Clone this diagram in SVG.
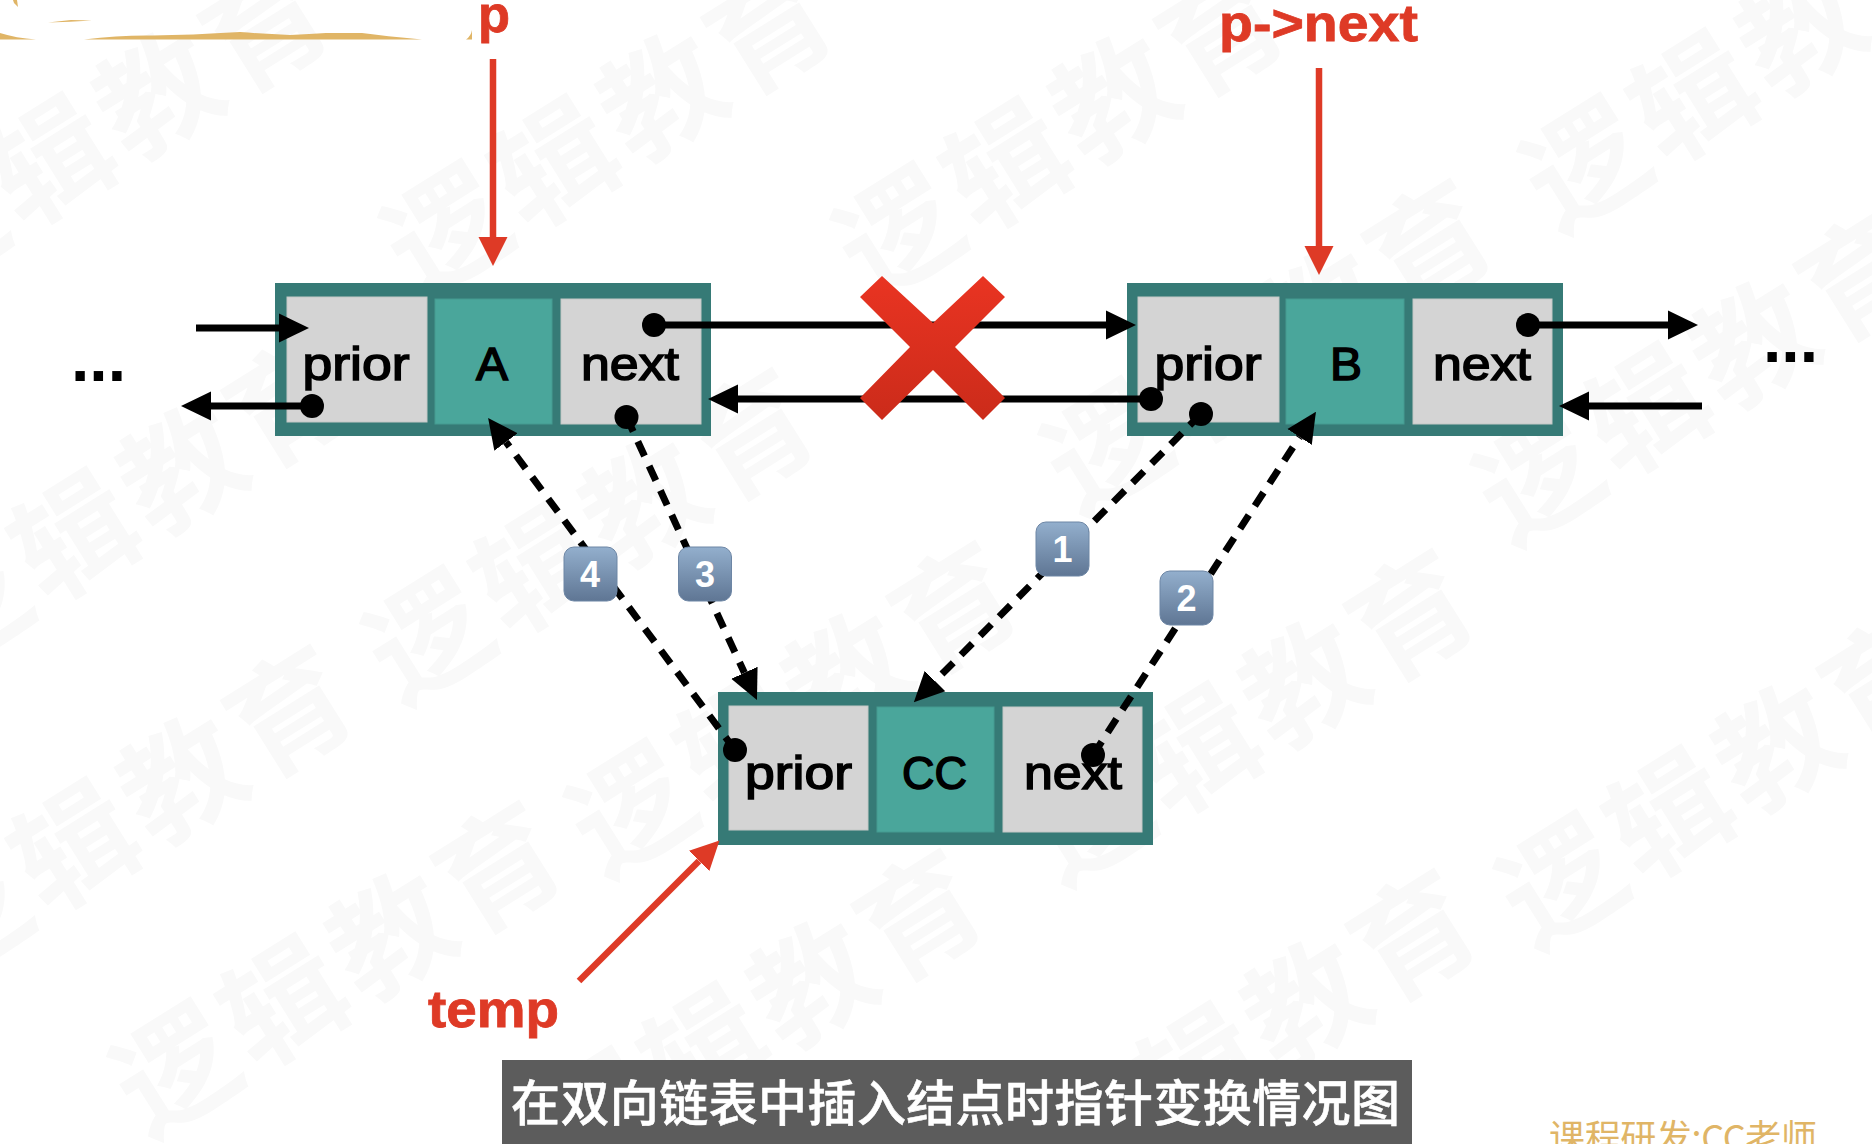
<svg xmlns="http://www.w3.org/2000/svg" width="1872" height="1144" viewBox="0 0 1872 1144">
<style>
text{font-family:"Liberation Sans","Noto Sans CJK SC",sans-serif}
.outer{fill:#367a76}
.cell{fill:#d4d4d4;stroke:#c4c8c6;stroke-width:1}
.data{fill:#4aa69b;stroke:#459a90;stroke-width:1}
.t{font-size:46px;fill:#000;stroke:#000;stroke-width:1.5}
.red{font-size:52px;font-weight:bold;fill:#de3a26;stroke:#de3a26;stroke-width:.8}
.ln{fill:none;stroke:#000;stroke-width:7}
.dash{stroke-dasharray:16 11}
.rl{fill:none;stroke:#de3a26;stroke-width:6.5}
.dot{fill:#000}
.dots{font-size:66px;font-weight:bold;fill:#000}
.bd{fill:url(#bg);stroke:#6d86a5;stroke-width:1}
.bt{font-size:36px;font-weight:bold;fill:#fff;text-anchor:middle}
.wm{font-family:"Noto Sans CJK SC",sans-serif;font-size:120px;font-weight:700;letter-spacing:7px;fill:#f9f9f9}
</style>
<defs>
<marker id="ah" markerUnits="userSpaceOnUse" markerWidth="30" markerHeight="30" viewBox="0 -15 30 30" refX="0" refY="0" orient="auto"><path d="M0,-14.5L30,0L0,14.5Z" fill="#000"/></marker>
<marker id="rh" markerUnits="userSpaceOnUse" markerWidth="30" markerHeight="30" viewBox="0 -15 30 30" refX="0" refY="0" orient="auto"><path d="M0,-14.5L29,0L0,14.5Z" fill="#de3a26"/></marker>
<linearGradient id="bg" x1="0" y1="0" x2="0" y2="1"><stop offset="0" stop-color="#93afcd"/><stop offset="1" stop-color="#5f7694"/></linearGradient>
<linearGradient id="xg" x1="0" y1="0" x2="0" y2="1"><stop offset="0" stop-color="#e93422"/><stop offset="1" stop-color="#cb2b1a"/></linearGradient>
<text id="wm" class="wm" x="-60" y="42" transform="rotate(-32)">逻辑教育</text>
</defs>
<rect width="1872" height="1144" fill="#fff"/>
<g id="watermark">
<use href="#wm" transform="translate(-32,606)"/>
<use href="#wm" transform="translate(-32,916)"/>
<use href="#wm" transform="translate(430,639)"/>
<use href="#wm" transform="translate(633,812)"/>
<use href="#wm" transform="translate(177,1072)"/>
<use href="#wm" transform="translate(598,1120)"/>
<use href="#wm" transform="translate(1090,820)"/>
<use href="#wm" transform="translate(1563,884)"/>
<use href="#wm" transform="translate(1092,1140)"/>
<use href="#wm" transform="translate(1540,480)"/>
<use href="#wm" transform="translate(1108,450)"/>
<use href="#wm" transform="translate(-56,231)"/>
<use href="#wm" transform="translate(448,233)"/>
<use href="#wm" transform="translate(900,235)"/>
<use href="#wm" transform="translate(1587,167)"/>
</g>
<g id="header-remnant" fill="#e0b566">
<path d="M0,33Q16,38 36,39.5L0,39.5Z"/>
<path d="M48,22.6L71,20L92,20.4Q70,22 48,22.6Z"/>
<path d="M13,0L17,0L18,7L14,3Z"/>
<path d="M84,39.5Q120,35 153,35.5Q190,35 240,32Q265,34 290,35Q310,34 326,33L362,33Q385,36 422,39.5Z"/>
<path d="M466,39.5Q471,36 472,30L472,39.5Z"/>
</g>
<g id="node-A">
<rect class="outer" x="275" y="283" width="436" height="153"/>
<rect class="cell" x="287" y="297" width="140" height="125"/>
<rect class="data" x="435" y="299" width="117" height="125"/>
<rect class="cell" x="561" y="299" width="140" height="125"/>
<text class="t" x="302.5" y="380" textLength="107" lengthAdjust="spacingAndGlyphs">prior</text>
<text class="t" x="476" y="380" textLength="32" lengthAdjust="spacingAndGlyphs">A</text>
<text class="t" x="581" y="380" textLength="98" lengthAdjust="spacingAndGlyphs">next</text>
</g>
<g id="node-B">
<rect class="outer" x="1127" y="283" width="436" height="153"/>
<rect class="cell" x="1138" y="297" width="141" height="125"/>
<rect class="data" x="1286" y="299" width="118" height="125"/>
<rect class="cell" x="1413" y="299" width="139" height="125"/>
<text class="t" x="1154.5" y="380" textLength="107" lengthAdjust="spacingAndGlyphs">prior</text>
<text class="t" x="1330" y="380" textLength="32" lengthAdjust="spacingAndGlyphs">B</text>
<text class="t" x="1433" y="380" textLength="98" lengthAdjust="spacingAndGlyphs">next</text>
</g>
<g id="node-C">
<rect class="outer" x="718" y="692" width="435" height="153"/>
<rect class="cell" x="729" y="706" width="139" height="124"/>
<rect class="data" x="877" y="707" width="117" height="125"/>
<rect class="cell" x="1003" y="707" width="139" height="125"/>
<text class="t" x="745" y="789" textLength="107" lengthAdjust="spacingAndGlyphs">prior</text>
<text class="t" x="902" y="789" textLength="65" lengthAdjust="spacingAndGlyphs">CC</text>
<text class="t" x="1024" y="789" textLength="98" lengthAdjust="spacingAndGlyphs">next</text>
</g>
<g id="connectors">
<line class="ln" x1="196" y1="328" x2="279" y2="328" marker-end="url(#ah)"/>
<line class="ln" x1="312" y1="406" x2="211" y2="406" marker-end="url(#ah)"/>
<line class="ln" x1="654" y1="325" x2="1106" y2="325" marker-end="url(#ah)"/>
<line class="ln" x1="1151" y1="399" x2="738" y2="399" marker-end="url(#ah)"/>
<line class="ln" x1="1528" y1="325" x2="1668" y2="325" marker-end="url(#ah)"/>
<line class="ln" x1="1702" y1="406" x2="1589" y2="406" marker-end="url(#ah)"/>
<line class="ln dash" x1="626.5" y1="417" x2="744.4" y2="672.8" marker-end="url(#ah)"/>
<line class="ln dash" x1="735" y1="750" x2="506" y2="442" marker-end="url(#ah)"/>
<line class="ln dash" x1="1201" y1="414" x2="935" y2="681" marker-end="url(#ah)"/>
<line class="ln dash" x1="1093" y1="755" x2="1299.6" y2="437" marker-end="url(#ah)"/>
<circle class="dot" cx="312" cy="406" r="12"/>
<circle class="dot" cx="654" cy="325" r="12"/>
<circle class="dot" cx="1151" cy="399" r="12"/>
<circle class="dot" cx="1528" cy="325" r="12"/>
<circle class="dot" cx="626.5" cy="417" r="12"/>
<circle class="dot" cx="1201" cy="414" r="12"/>
<circle class="dot" cx="735" cy="750" r="12"/>
<circle class="dot" cx="1093" cy="755" r="12"/>
<line class="rl" x1="493" y1="59" x2="493" y2="237" marker-end="url(#rh)"/>
<line class="rl" x1="1319" y1="68" x2="1319" y2="246" marker-end="url(#rh)"/>
<line class="rl" x1="579" y1="981" x2="699" y2="861" marker-end="url(#rh)"/>
</g>
<g id="cross"><path fill="url(#xg)" d="M882,276L933,323L983,276L1005,297L955,347L1005,398L983,420L933,370L882,420L860,398L910,347L860,297Z"/></g>
<g id="badge-1"><rect class="bd" x="1036" y="522" width="53" height="54" rx="10"/><text class="bt" x="1062.5" y="562">1</text></g>
<g id="badge-2"><rect class="bd" x="1160" y="571" width="53" height="54" rx="10"/><text class="bt" x="1186.5" y="611">2</text></g>
<g id="badge-3"><rect class="bd" x="678.5" y="547" width="53" height="54" rx="10"/><text class="bt" x="705" y="587">3</text></g>
<g id="badge-4"><rect class="bd" x="564" y="547" width="53" height="54" rx="10"/><text class="bt" x="590" y="587">4</text></g>
<g id="labels">
<text class="red" x="478" y="32" textLength="32" lengthAdjust="spacingAndGlyphs">p</text>
<text class="red" x="1219" y="41" textLength="199" lengthAdjust="spacingAndGlyphs">p-&gt;next</text>
<text class="red" x="428" y="1027" textLength="131" lengthAdjust="spacingAndGlyphs">temp</text>
<text class="dots" x="71" y="381">...</text>
<text class="dots" x="1763" y="362">...</text>
</g>
<g id="caption">
<rect x="502" y="1060" width="910" height="84" fill="#5c5c5c"/>
<text x="511" y="1121" fill="#fff" stroke="#fff" stroke-width=".6" font-size="49" style="font-family:'Noto Sans CJK SC',sans-serif;font-weight:500" textLength="889">在双向链表中插入结点时指针变换情况图</text>
</g>
<text id="credit" x="1549" y="1151" fill="#e0b566" font-size="36" style="font-family:'Noto Sans CJK SC',sans-serif" textLength="268">课程研发:CC老师</text>
</svg>
